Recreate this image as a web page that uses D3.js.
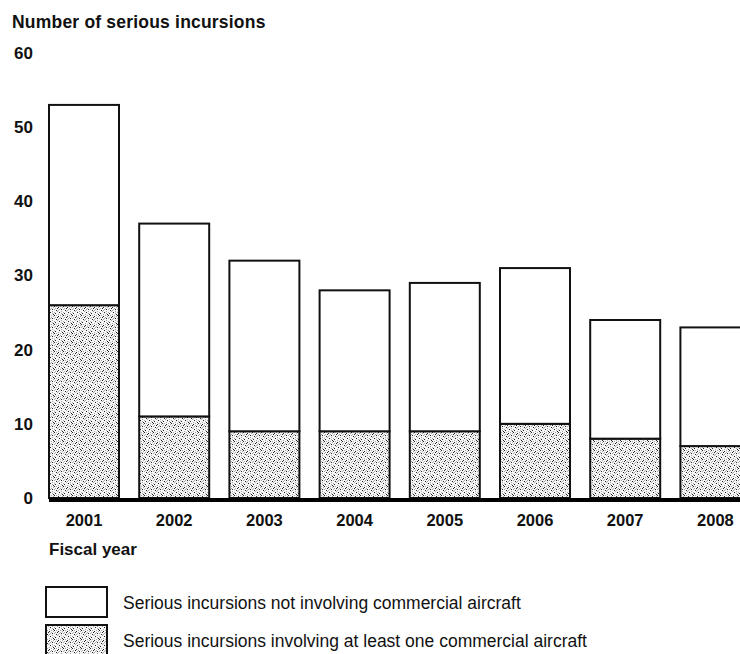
<!DOCTYPE html>
<html>
<head>
<meta charset="utf-8">
<script src="https://cdn.jsdelivr.net/npm/d3@7"></script>
<style>
  html, body { margin: 0; padding: 0; background: #fff; }
  svg { display: block; font-family: "Liberation Sans", Arial, Helvetica, sans-serif; }
</style>
</head>
<body>
<svg id="chart" width="740" height="654"></svg>
<script>
// ---- data ----
const years = ["2001", "2002", "2003", "2004", "2005", "2006", "2007", "2008"];
const commercial = [26, 11, 9, 9, 9, 10, 8, 7];        // involving at least one commercial aircraft
const nonCommercial = [27, 26, 23, 19, 20, 21, 16, 16]; // not involving commercial aircraft
const yTicks = [0, 10, 20, 30, 40, 50, 60];
const seriesLabels = [
  "Serious incursions not involving commercial aircraft",
  "Serious incursions involving at least one commercial aircraft"
];
const yTitle = "Number of serious incursions";
const xTitle = "Fiscal year";

// ---- chart ----
const svg = d3.select("#chart");
const W = 740;

// stipple pattern
const defs = svg.append("defs");
const pat = defs.append("pattern")
  .attr("id", "stipple").attr("patternUnits", "userSpaceOnUse")
  .attr("width", 9).attr("height", 9);
pat.append("rect").attr("width", 9).attr("height", 9).attr("fill", "#f6f6f6");
const blackDots = [[0,0],[4,1],[7,3],[2,4],[5,6],[1,7],[8,8],[3,2]];
const grayDots = [[2,0],[8,1],[0,3],[5,3],[3,5],[7,5],[0,6],[4,8],[7,7],[1,2],[6,2],[4,4],[6,0]];
grayDots.forEach(d => pat.append("rect").attr("x", d[0]).attr("y", d[1]).attr("width", 1).attr("height", 1).attr("fill", "#a8a8a8"));
blackDots.forEach(d => pat.append("rect").attr("x", d[0]).attr("y", d[1]).attr("width", 1).attr("height", 1).attr("fill", "#222"));

const x = d3.scaleBand().domain(years).range([49, 750.4]).paddingInner(0.224).paddingOuter(0);
const y = d3.scaleLinear().domain([0, 60]).range([498, 53]);

const rows = years.map((yr, i) => ({ year: yr, commercial: commercial[i], nonCommercial: nonCommercial[i] }));
const stack = d3.stack().keys(["commercial", "nonCommercial"])(rows);

// y title
svg.append("text").attr("x", 12).attr("y", 28)
  .attr("font-size", 17.5).attr("font-weight", "bold").attr("fill", "#111")
  .attr("letter-spacing", 0.2)
  .text(yTitle);

// y axis (labels only)
const yAxis = svg.append("g").attr("transform", "translate(33,0)")
  .call(d3.axisLeft(y).tickValues(yTicks).tickSize(0).tickPadding(0).tickFormat(d3.format("d")));
yAxis.select(".domain").remove();
yAxis.selectAll("text").attr("font-size", 17).attr("font-weight", "bold").attr("fill", "#111")
  .attr("font-family", "'Liberation Sans', Arial, sans-serif");

// bars
const fills = ["url(#stipple)", "#fff"];
svg.append("g").selectAll("g").data(stack).join("g")
  .attr("fill", (d, i) => fills[i])
  .selectAll("rect").data(d => d).join("rect")
  .attr("x", d => x(d.data.year))
  .attr("width", x.bandwidth())
  .attr("y", d => y(d[1]))
  .attr("height", d => y(d[0]) - y(d[1]))
  .attr("stroke", "#111").attr("stroke-width", 2);

// baseline
svg.append("line").attr("x1", x(years[0])).attr("x2", W)
  .attr("y1", y(0) + 2).attr("y2", y(0) + 2)
  .attr("stroke", "#000").attr("stroke-width", 4);

// x axis labels
const xAxis = svg.append("g").attr("transform", `translate(0,${y(0)})`)
  .call(d3.axisBottom(x).tickSize(0).tickPadding(16));
xAxis.select(".domain").remove();
xAxis.selectAll("text").attr("font-size", 16.5).attr("font-weight", "bold").attr("fill", "#111")
  .attr("font-family", "'Liberation Sans', Arial, sans-serif");

// x title
svg.append("text").attr("x", 49).attr("y", 555)
  .attr("font-size", 17).attr("font-weight", "bold").attr("fill", "#111")
  .text(xTitle);

// legend
const legend = svg.append("g");
const legendFills = ["#fff", "url(#stipple)"];
seriesLabels.forEach((lab, i) => {
  const gy = 587 + i * 38;
  legend.append("rect").attr("x", 46).attr("y", gy).attr("width", 61).attr("height", 30)
    .attr("fill", legendFills[i]).attr("stroke", "#111").attr("stroke-width", 2);
  legend.append("text").attr("x", 123).attr("y", gy + 21.5)
    .attr("font-size", 17.5).attr("fill", "#111").text(lab);
});
</script>
</body>
</html>
